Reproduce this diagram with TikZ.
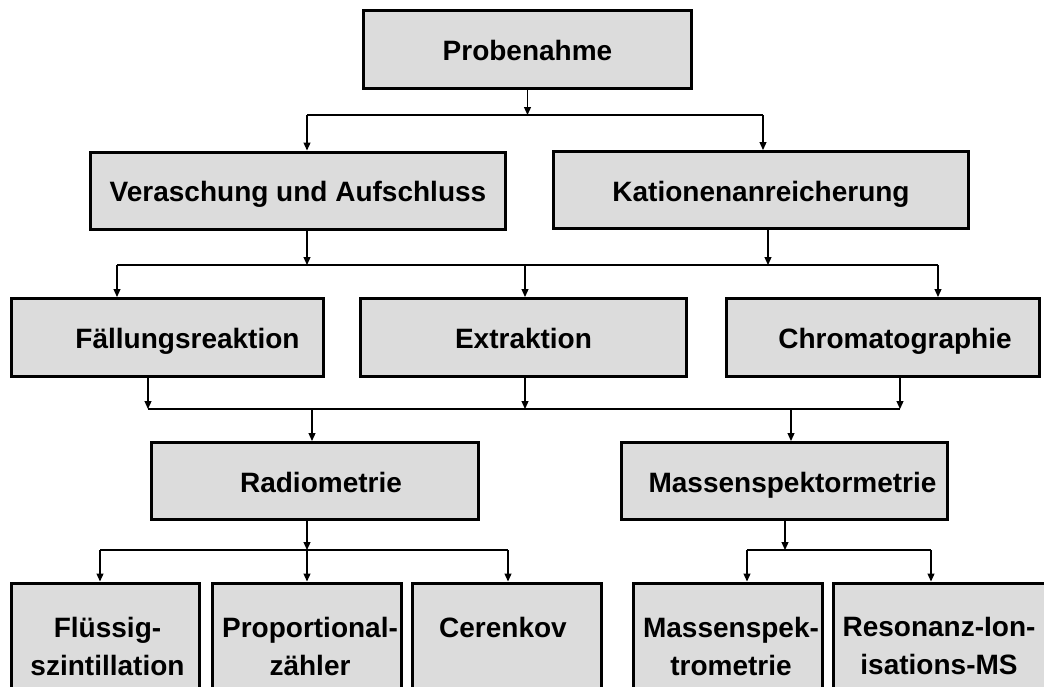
\documentclass[tikz,border=0pt]{standalone}
\usepackage{fontspec}
\setmainfont{Liberation Sans}
\usetikzlibrary{arrows.meta,positioning}
\definecolor{boxgray}{RGB}{220,220,220}

\begin{document}
\begin{tikzpicture}[x=1pt,y=-1pt,
  font=\bfseries\fontsize{28}{38}\selectfont,
  box/.style={draw=black, line width=3pt, fill=boxgray, inner sep=0pt, align=center, text height=22pt, text depth=0pt},
  mid/.style={text height=22pt, text depth=0pt},
  low/.style={anchor=north, yshift=-32pt, align=center},
  arr/.style={line width=1.2pt, -{Triangle[length=8pt,width=7pt]}},
  bar/.style={line width=1.4pt}]
\clip (0,0) rectangle (1044,686);
\useasboundingbox (0,0) rectangle (1044,686);
\node[box, minimum width=328pt, minimum height=78pt] (probe) at (527.5,49.5) {Probenahme};
\node[box, minimum width=415pt, minimum height=77pt] (vera) at (298,190.5) {Veraschung und Aufschluss};
\node[box, minimum width=415pt, minimum height=77pt] (kat) at (761,190) {Kationenanreicherung};
\node[box, minimum width=312pt, minimum height=78pt, label={[mid, xshift=20pt]center:F\"allungsreaktion}] (fall) at (167.5,337.5) {};
\node[box, minimum width=326pt, minimum height=78pt] (extr) at (523.5,337.5) {Extraktion};
\node[box, minimum width=313pt, minimum height=78pt, label={[mid, xshift=12pt]center:Chromatographie}] (chrom) at (883,337.5) {};
\node[box, minimum width=327pt, minimum height=77pt, label={[mid, xshift=6pt]center:Radiometrie}] (radio) at (315,481) {};
\node[box, minimum width=326pt, minimum height=77pt, label={[mid, xshift=8pt]center:Massenspektormetrie}] (mass) at (784.5,481) {};
\node[box, minimum width=188pt, minimum height=120pt, label={[low, xshift=2pt]north:Fl\"ussig-\\szintillation}] (fluess) at (105.5,643) {};
\node[box, minimum width=189pt, minimum height=120pt, label={[low, xshift=3pt]north:Proportional-\\z\"ahler}] (prop) at (307,643) {};
\node[box, minimum width=189pt, minimum height=120pt, label={[low, xshift=-4pt]north:Cerenkov}] (ceren) at (507,643) {};
\node[box, minimum width=189pt, minimum height=120pt, label={[low, xshift=3pt]north:Massenspek-\\trometrie}] (mspek) at (728,643) {};
\node[box, minimum width=225pt, minimum height=120pt, label={[low, xshift=-7pt]north:Resonanz-Ion-\\isations-MS}] (reso) at (946,643) {};
\coordinate (j1) at (527.5,115);
\coordinate (j1l) at (307,115);
\coordinate (j1r) at (763,115);
\coordinate (j2l) at (117,265);
\coordinate (j2a) at (307,265);
\coordinate (j2b) at (768,265);
\coordinate (j2m) at (525,265);
\coordinate (j2r) at (938,265);
\coordinate (j3l) at (148,409);
\coordinate (j3m) at (525,409);
\coordinate (j3r) at (900,409);
\coordinate (j3a) at (312,409);
\coordinate (j3b) at (791,409);
\coordinate (j4l) at (100,550);
\coordinate (j4m) at (307,550);
\coordinate (j4r) at (508,550);
\coordinate (j5l) at (747,550);
\coordinate (j5m) at (785,550);
\coordinate (j5r) at (931,550);
\draw[arr] (probe.south) -- (j1);
\draw[bar] (j1l) -- (j1r);
\draw[arr] (j1l) -- (j1l |- vera.north);
\draw[arr] (j1r) -- (j1r |- kat.north);
\draw[arr] (j2a |- vera.south) -- (j2a);
\draw[arr] (j2b |- kat.south) -- (j2b);
\draw[bar] (j2l) -- (j2r);
\draw[arr] (j2l) -- (j2l |- fall.north);
\draw[arr] (j2m) -- (j2m |- extr.north);
\draw[arr] (j2r) -- (j2r |- chrom.north);
\draw[arr] (j3l |- fall.south) -- (j3l);
\draw[arr] (j3m |- extr.south) -- (j3m);
\draw[arr] (j3r |- chrom.south) -- (j3r);
\draw[bar] (j3l) -- (j3r);
\draw[arr] (j3a) -- (j3a |- radio.north);
\draw[arr] (j3b) -- (j3b |- mass.north);
\draw[arr] (j4m |- radio.south) -- (j4m);
\draw[bar] (j4l) -- (j4r);
\draw[arr] (j4l) -- (j4l |- fluess.north);
\draw[arr] (j4m) -- (j4m |- prop.north);
\draw[arr] (j4r) -- (j4r |- ceren.north);
\draw[arr] (j5m |- mass.south) -- (j5m);
\draw[bar] (j5l) -- (j5r);
\draw[arr] (j5l) -- (j5l |- mspek.north);
\draw[arr] (j5r) -- (j5r |- reso.north);
\end{tikzpicture}
\end{document}
